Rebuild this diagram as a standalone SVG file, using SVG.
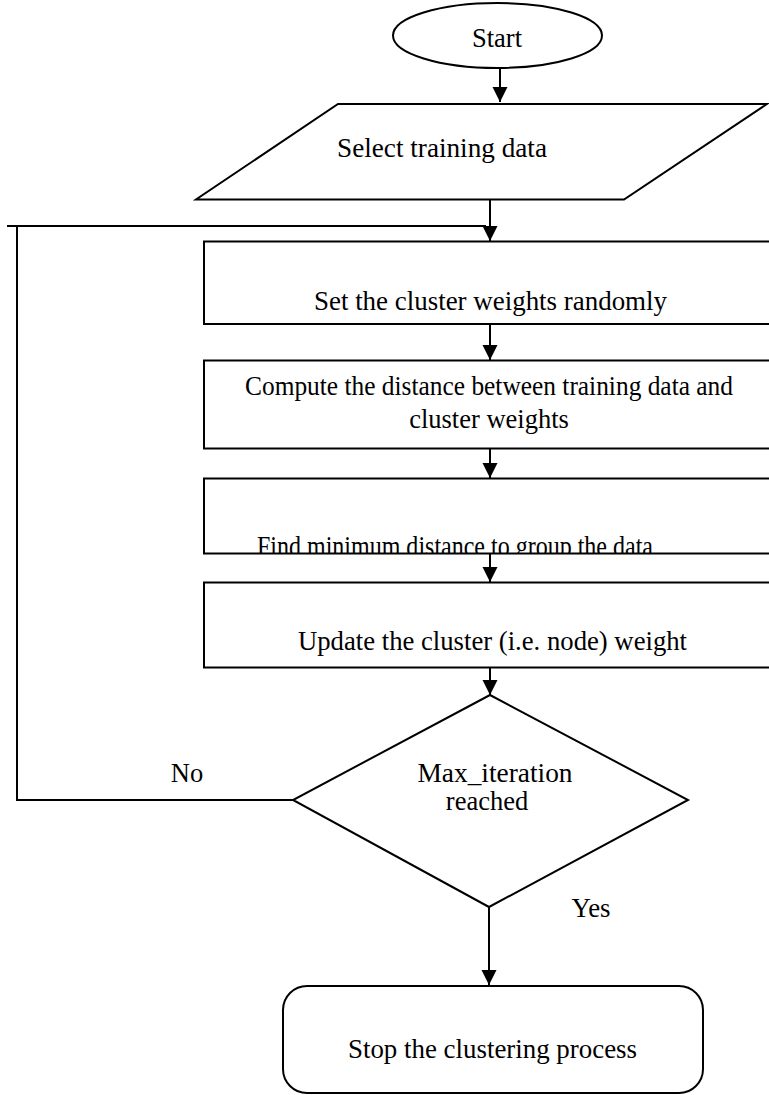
<svg xmlns="http://www.w3.org/2000/svg" width="769" height="1095" viewBox="0 0 769 1095">
<style>
.s{fill:#fff;stroke:#000;stroke-width:2}
.t{font-family:"Liberation Serif","Times New Roman",serif;font-size:26.5px;fill:#000;text-anchor:middle}
.c{fill:none;stroke:#000;stroke-width:2}
</style>
<defs>
<marker id="ah" markerUnits="userSpaceOnUse" markerWidth="16" markerHeight="16" refX="15" refY="7.5" orient="auto">
<path d="M0,0 L15,7.5 L0,15 Z" fill="#000"/>
</marker>
<clipPath id="clip3"><rect x="204" y="478" width="600" height="75"/></clipPath>
</defs>
<rect width="769" height="1095" fill="#fff"/>
<g id="start">
<ellipse class="s" cx="497.5" cy="35.5" rx="104.5" ry="32.5"/>
<text class="t" x="497" y="47">Start</text>
</g>
<g id="select">
<polygon class="s" points="338,104 767,104 624,199.5 196,199.5"/>
<text class="t" x="442" y="157" textLength="210" lengthAdjust="spacingAndGlyphs">Select training data</text>
</g>
<g id="setweights">
<rect class="s" x="204" y="241.5" width="600" height="82.5"/>
<text class="t" x="490.5" y="310" textLength="353" lengthAdjust="spacingAndGlyphs">Set the cluster weights randomly</text>
</g>
<g id="compute">
<rect class="s" x="204" y="360.5" width="600" height="88"/>
<text class="t" x="489" y="395" textLength="488" lengthAdjust="spacingAndGlyphs">Compute the distance between training data and</text>
<text class="t" x="489" y="428">cluster weights</text>
</g>
<g id="findmin">
<rect class="s" x="204" y="478.5" width="600" height="75"/>
<text class="t" x="455" y="556" clip-path="url(#clip3)" style="font-size:30px" textLength="396" lengthAdjust="spacingAndGlyphs">Find minimum distance to group the data</text>
</g>
<g id="update">
<rect class="s" x="204" y="582.5" width="600" height="85"/>
<text class="t" x="492.5" y="650" textLength="389" lengthAdjust="spacingAndGlyphs">Update the cluster (i.e. node) weight</text>
</g>
<g id="decision">
<polygon class="s" points="490,695 688,800 489,907 293,800"/>
<text class="t" x="495" y="782" textLength="155" lengthAdjust="spacingAndGlyphs">Max_iteration</text>
<text class="t" x="487" y="810">reached</text>
</g>
<g id="stop">
<rect class="s" x="283" y="986" width="420" height="107" rx="24" ry="24"/>
<text class="t" x="492.5" y="1058" textLength="289" lengthAdjust="spacingAndGlyphs">Stop the clustering process</text>
</g>
<g id="connectors">
<line class="c" x1="500" y1="68" x2="500" y2="102" marker-end="url(#ah)"/>
<line class="c" x1="490" y1="200" x2="490" y2="241" marker-end="url(#ah)"/>
<line class="c" x1="490" y1="324" x2="490" y2="360" marker-end="url(#ah)"/>
<line class="c" x1="490" y1="449" x2="490" y2="478" marker-end="url(#ah)"/>
<line class="c" x1="490" y1="554" x2="490" y2="582" marker-end="url(#ah)"/>
<line class="c" x1="490" y1="668" x2="490" y2="695" marker-end="url(#ah)"/>
<line class="c" x1="489" y1="907" x2="489" y2="985" marker-end="url(#ah)"/>
<polyline class="c" points="293,800 17,800 17,226"/>
<line class="c" x1="7" y1="226" x2="486" y2="226"/>
<text class="t" x="187" y="782">No</text>
<text class="t" x="591" y="917" textLength="39" lengthAdjust="spacingAndGlyphs">Yes</text>
</g>
</svg>
